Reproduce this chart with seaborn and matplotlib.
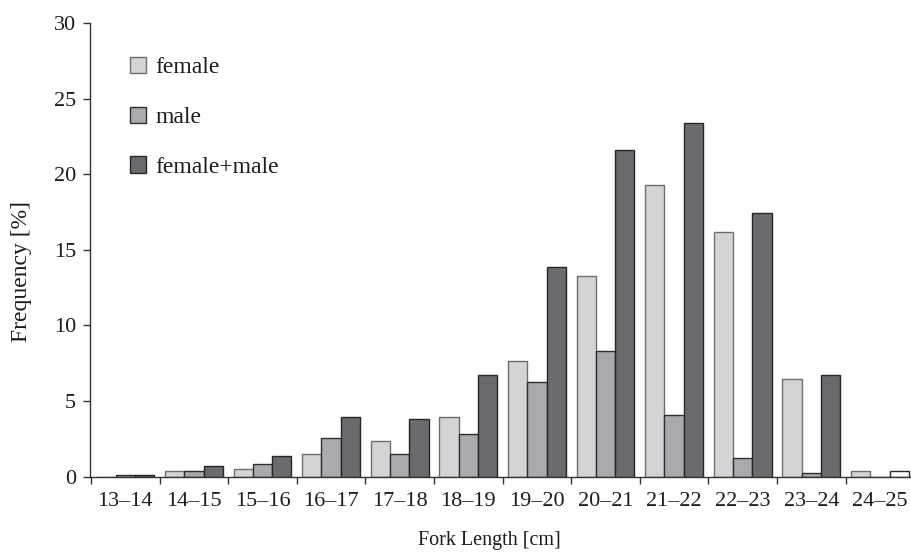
import matplotlib
matplotlib.use("Agg")
import matplotlib.pyplot as plt
import seaborn as sns
import pandas as pd
from matplotlib.patches import Patch

categories = ["13–14", "14–15", "15–16", "16–17", "17–18", "18–19",
              "19–20", "20–21", "21–22", "22–23", "23–24", "24–25"]
female = [0.0, 0.35, 0.48, 1.5, 2.38, 3.93, 7.64, 13.27, 19.27, 16.18, 6.47, 0.36]
male = [0.1, 0.35, 0.84, 2.54, 1.5, 2.78, 6.23, 8.28, 4.08, 1.24, 0.22, 0.0]
female_male = [0.1, 0.7, 1.37, 3.93, 3.82, 6.73, 13.89, 21.57, 23.36, 17.46, 6.73, 0.34]
series = ["female", "male", "female+male"]

colors = {"female": "#d3d4d6", "male": "#a9aaad", "female+male": "#6a6b6f"}
edges = {"female": "#6e6e6e", "male": "#2e2e2e", "female+male": "#262626"}

rows = []
for name, vals in zip(series, [female, male, female_male]):
    for c, v in zip(categories, vals):
        rows.append({"Length": c, "Frequency": v, "Sex": name})
df = pd.DataFrame(rows)

sns.set_theme(style="white")
plt.rcParams["font.family"] = ["Liberation Serif", "DejaVu Serif"]

fig = plt.figure(figsize=(9.12, 5.56), dpi=100)
ax = fig.add_axes([90/912, (556-476.5)/556, (912-90)/912, 453.5/556])

sns.barplot(data=df, x="Length", y="Frequency", hue="Sex", order=categories,
            hue_order=series, palette=colors, width=0.84, saturation=1,
            linewidth=1.0, edgecolor="#2a2a2a", legend=False, ax=ax)

for cont, name in zip(ax.containers, series):
    for p in cont.patches:
        p.set_edgecolor(edges[name])
        p.set_linewidth(1.0)
# last female+male bar appears unfilled in the reference
ax.containers[2].patches[-1].set_facecolor("white")

txt = "#1c1c1c"
ax.set_ylim(0, 30)
ax.set_xlim(-0.5 - 1/68.6, -0.5 - 1/68.6 + 822/68.6)
ax.set_yticks([0, 5, 10, 15, 20, 25, 30])
ax.set_xticks(range(len(categories)))
ax.set_xticklabels(categories)
ax.set_xticks([i - 0.5 for i in range(len(categories))], minor=True)
ax.tick_params(axis="x", which="major", length=0, pad=11, labelsize=16, labelcolor=txt)
ax.tick_params(axis="x", which="minor", length=5, width=1, direction="out", color="#333333", bottom=True)
ax.tick_params(axis="y", which="major", length=5, width=1, direction="out", pad=5,
               labelsize=16, color="#333333", labelcolor=txt, left=True)

for s in ["top", "right"]:
    ax.spines[s].set_visible(False)
for s in ["left", "bottom"]:
    ax.spines[s].set_color("#333333")
    ax.spines[s].set_linewidth(1.0)

ax.set_xlabel("Fork Length [cm]", fontsize=14.5, color=txt)
ax.set_ylabel("Frequency [%]", fontsize=17, color=txt)
ax.xaxis.set_label_coords((489-90)/822, -(531-476.5)/453.5)
ax.yaxis.set_label_coords((32-90)/822, 1-(272-23)/453.5)

handles = [Patch(facecolor=colors[n], edgecolor=edges[n], linewidth=1.0) for n in series]
ax.legend(handles, series, loc="upper left", bbox_to_anchor=((130-90)/822, 1-(57-23)/453.5),
          frameon=False, fontsize=17, handlelength=0.68, handleheight=0.68,
          handletextpad=0.4, labelspacing=1.2, borderpad=0, borderaxespad=0,
          labelcolor=txt)

fig.savefig("out.png", dpi=100)
